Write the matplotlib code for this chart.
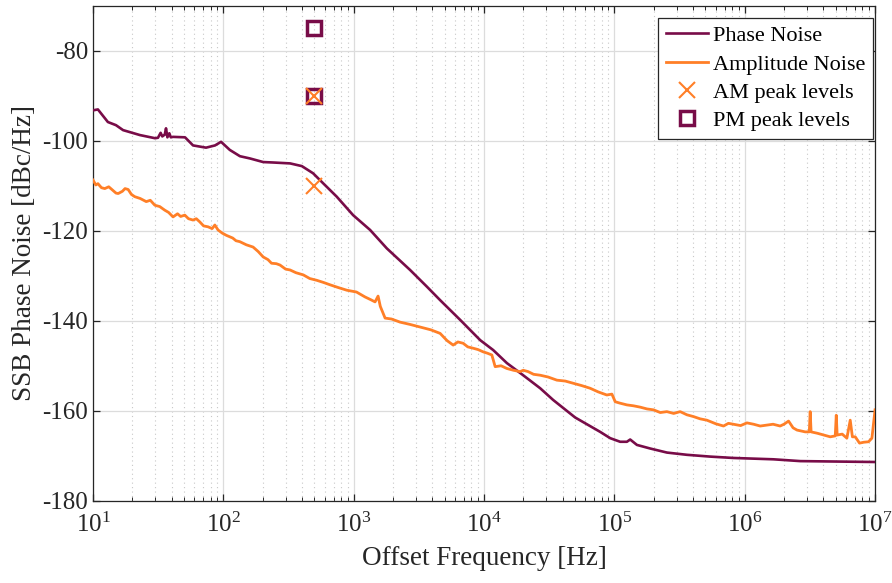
import matplotlib
matplotlib.use('Agg')
import matplotlib.pyplot as plt
from matplotlib.ticker import LogLocator, NullFormatter

plt.rcParams['font.family'] = ['Liberation Serif', 'DejaVu Serif']
plt.rcParams['mathtext.fontset'] = 'custom'
plt.rcParams['mathtext.rm'] = 'Liberation Serif'
plt.rcParams['mathtext.it'] = 'Liberation Serif:italic'
plt.rcParams['axes.unicode_minus'] = False

# Phase noise curve (offset frequency in Hz, level in dBc/Hz)
pn_freq = [10, 10.9, 13.0, 15.0, 17.0, 22.9, 29.9, 31.5, 33.0, 34.0, 35.5, 36.3,
           37.2, 38.5, 39.5, 41.1, 50.8, 58.5, 73.6, 86.3, 96, 112, 134, 160,
           202, 241, 325, 400, 488, 582, 741, 989, 1336, 1795, 2708, 3641, 4600,
           6560, 9340, 11750, 14970, 19950, 26960, 33900, 50000, 77800, 92900,
           110700, 124700, 132200, 148900, 188400, 253000, 360400, 544000,
           817000, 1.66e6, 2.67e6, 1e7]
pn_level = [-93.2, -93.0, -95.8, -96.5, -97.6, -98.7, -99.4, -99.3, -98.2, -99.0,
            -98.6, -97.2, -99.2, -98.3, -99.2, -99.1, -99.2, -101.0, -101.5,
            -101.0, -100.2, -102.0, -103.4, -103.9, -104.7, -104.8, -105.0,
            -105.6, -107.2, -109.4, -112.4, -116.5, -119.8, -123.9, -128.7,
            -132.4, -135.4, -139.8, -144.3, -146.5, -149.4, -152.1, -155.0,
            -157.6, -161.5, -164.7, -166.1, -166.9, -166.9, -166.4, -167.6,
            -168.4, -169.3, -169.8, -170.2, -170.5, -170.8, -171.2, -171.4]

# Amplitude noise curve
am_freq = [10.0, 10.5, 10.9, 11.6, 12.3, 13.2, 14.2, 15.0, 15.6, 16.8, 17.6, 18.6,
           19.7, 20.9, 23.0, 25.6, 27.5, 29.8, 32.5, 35.5, 38.0, 41.1, 44.5, 47.0,
           50.6, 54.0, 58.5, 62.0, 65.9, 70.5, 76.3, 82.0, 86.0, 91.0, 98.0, 105.5,
           118, 125, 133.6, 150, 169, 185, 202, 220, 234, 255, 272, 300, 325, 360,
           411, 460, 521, 590, 659, 760, 885, 1050, 1222, 1350, 1458, 1538, 1600,
           1741, 1950, 2270, 2700, 3235, 3900, 4603, 5200, 5795, 6300, 6918, 7500,
           8250, 9000, 9840, 10600, 11480, 12170, 13500, 14960, 16800, 18920,
           20000, 21790, 24000, 26960, 31000, 36220, 42000, 48570, 56000, 65170,
           75000, 87500, 95700, 101500, 110000, 124700, 140000, 157800, 178000,
           199700, 225000, 252800, 285000, 319700, 360000, 404700, 455000, 512400,
           600000, 687600, 750000, 820300, 930000, 1.04e6, 1.17e6, 1.315e6,
           1.48e6, 1.65e6, 1.87e6, 2.0e6, 2.17e6, 2.35e6, 2.52e6, 2.91e6, 3.13e6,
           3.18e6, 3.23e6, 3.6e6, 4.03e6, 4.53e6, 4.95e6, 5.04e6, 5.12e6, 5.6e6,
           6.08e6, 6.45e6, 6.7e6, 7.05e6, 7.60e6, 8.2e6, 8.91e6, 9.46e6, 1e7]
am_level = [-108.7, -109.8, -109.5, -110.4, -110.6, -110.2, -111.0, -111.6, -111.7,
            -111.2, -110.6, -110.8, -111.9, -112.4, -112.8, -113.5, -113.2, -114.3,
            -114.6, -115.4, -115.9, -116.9, -116.2, -116.8, -116.5, -117.3, -117.6,
            -117.3, -118.0, -118.9, -119.1, -119.5, -118.7, -119.8, -120.5, -121.0,
            -121.6, -122.2, -122.4, -123.1, -123.6, -124.6, -125.8, -126.4, -127.2,
            -127.3, -127.6, -128.5, -128.7, -129.3, -129.8, -130.6, -131.0, -131.5,
            -132.0, -132.6, -133.2, -133.6, -134.7, -135.3, -135.8, -134.5, -136.8,
            -139.4, -139.6, -140.3, -140.8, -141.4, -142.0, -142.8, -144.4, -145.4,
            -144.7, -145.0, -145.8, -146.1, -146.4, -146.9, -147.2, -147.6, -150.2,
            -150.0, -150.6, -151.0, -151.3, -151.0, -151.3, -151.9, -152.1, -152.5,
            -153.2, -153.4, -153.9, -154.4, -155.0, -155.8, -156.5, -156.3, -158.0,
            -158.3, -158.7, -158.9, -159.2, -159.6, -159.8, -160.4, -160.2, -160.6,
            -160.2, -160.9, -161.3, -161.8, -162.1, -162.9, -163.4, -162.8, -163.0,
            -163.3, -162.7, -163.0, -163.4, -163.2, -163.0, -163.4, -163.0, -162.3,
            -163.8, -164.3, -164.7, -164.7, -160.2, -164.7, -165.0, -165.4, -165.8,
            -165.6, -161.0, -165.4, -165.2, -166.1, -162.1, -165.8, -165.8, -167.2,
            -167.0, -166.9, -166.1, -159.8]

# Peak level markers
am_peak_freq = [500, 500]
am_peak_level = [-90, -110]
pm_peak_freq = [500, 500]
pm_peak_level = [-75, -90]

x_ticks = [1e1, 1e2, 1e3, 1e4, 1e5, 1e6, 1e7]
y_ticks = [-180, -160, -140, -120, -100, -80]

maroon = '#780C48'
orange = '#FF7F27'

fig = plt.figure(figsize=(8.92, 5.83), dpi=100)
ax = fig.add_axes([0.1043, 0.1412, 0.8767, 0.8485])

ax.plot(pn_freq, pn_level, color=maroon, lw=1.9, label='Phase Noise', zorder=3)
ax.plot(am_freq, am_level, color=orange, lw=2.0, label='Amplitude Noise', zorder=3)
ax.plot(am_peak_freq, am_peak_level, 'x', color=orange, ms=11, mew=1.5,
        label='AM peak levels', zorder=5)
ax.plot(pm_peak_freq, pm_peak_level, 's', mfc='none', mec=maroon, ms=10.5, mew=2.5,
        label='PM peak levels', zorder=4)

ax.set_xscale('log')
ax.set_xticks(x_ticks)
ax.set_xlim(10, 1e7)
ax.set_ylim(-180, -70)
ax.set_yticks(y_ticks)
ax.xaxis.set_minor_locator(LogLocator(base=10, subs=range(2, 10), numticks=100))
ax.xaxis.set_minor_formatter(NullFormatter())

ax.grid(True, which='major', color='#DCDCDC', lw=0.9, ls='-')
ax.grid(True, which='minor', axis='x', color='#C8C8C8', lw=0.8, ls=(0, (1, 3)))
ax.set_axisbelow(True)

ax.tick_params(which='both', direction='in', top=True, right=True, colors='#262626',
               labelcolor='#262626', labelsize=18)
ax.tick_params(which='major', length=5, width=0.9)
ax.tick_params(which='minor', length=3, width=0.7)
ax.tick_params(axis='x', pad=9)
for s in ax.spines.values():
    s.set_color('#262626')
    s.set_linewidth(0.9)

ax.set_xlabel('Offset Frequency [Hz]', fontsize=19.5, color='#262626', labelpad=6)
ax.set_ylabel('SSB Phase Noise [dBc/Hz]', fontsize=19.5, color='#262626', labelpad=4)

leg = ax.legend(loc='upper right', bbox_to_anchor=(0.997, 0.976), borderaxespad=0,
                fontsize=16, fancybox=False, edgecolor='#262626', framealpha=1,
                handlelength=1.9, handletextpad=0.2, labelspacing=0.35,
                borderpad=0.35)
leg.get_frame().set_linewidth(0.9)

fig.savefig('out.png', dpi=100)
